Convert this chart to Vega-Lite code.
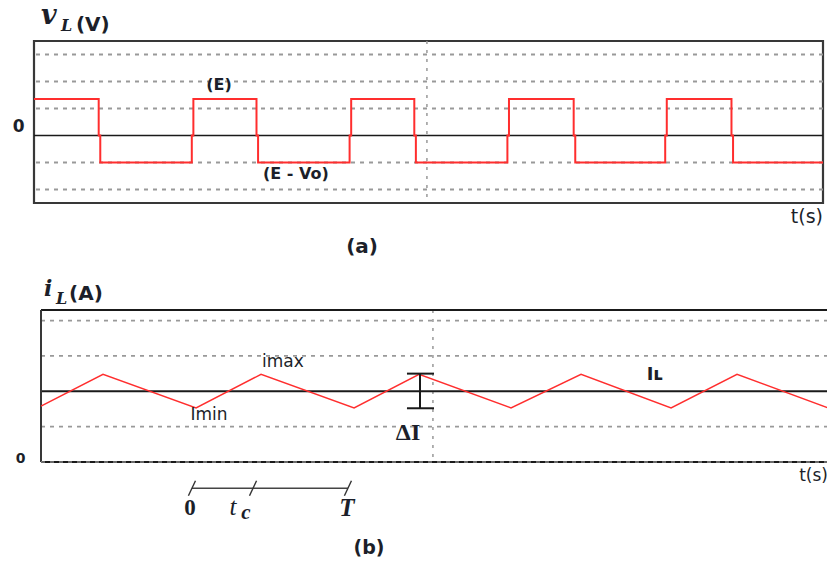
{
"$schema": "https://vega.github.io/schema/vega-lite/v6.json",
"background": "white",
"padding": {"left": 11, "top": 1, "right": 0, "bottom": 0},
"autosize": {"type": "pad"},
"bounds": "flush",
"spacing": 107,
"config": {"view": {"stroke": null}, "axis": {"domain": false, "ticks": false, "grid": false, "title": null}},
"vconcat": [
{
 "width": 789, "height": 162,
 "view": {"stroke": "#383838", "strokeWidth": 2.2},
 "layer": [
  {"data": {"values": [{"v": 3}, {"v": 2}, {"v": 1}, {"v": -1}, {"v": -2}]},
   "mark": {"type": "rule", "stroke": "#999999", "strokeWidth": 1.8, "strokeDash": [4, 5]},
   "encoding": {"y": {"field": "v", "type": "quantitative", "scale": {"domain": [-2.5, 3.5], "nice": false, "zero": false},
     "axis": {"values": [0], "labelFont": "DejaVu Sans", "labelFontSize": 17, "labelFontWeight": "bold", "labelColor": "#1c1f2a", "labelPadding": 10, "labelOffset": -9}}}},
  {"data": {"values": [{"t": 24.9}]},
   "mark": {"type": "rule", "stroke": "#999999", "strokeWidth": 1.5, "strokeDash": [3, 6]},
   "encoding": {"x": {"field": "t", "type": "quantitative", "scale": {"domain": [0, 50], "nice": false, "zero": false}, "axis": null}}},
  {"data": {"values": [{"v": 0}]},
   "mark": {"type": "rule", "stroke": "#1a1a1a", "strokeWidth": 1.6},
   "encoding": {"y": {"field": "v", "type": "quantitative", "scale": {"domain": [-2.5, 3.5], "nice": false, "zero": false}}}},
  {"data": {"values": [
     {"k": 1, "t": 0, "v": 1.35}, {"k": 2, "t": 4.1, "v": 1.35}, {"k": 3, "t": 4.1, "v": 0}, {"k": 4, "t": 4.2, "v": 0}, {"k": 5, "t": 4.2, "v": -1},
     {"k": 6, "t": 10, "v": -1}, {"k": 7, "t": 10, "v": 0}, {"k": 8, "t": 10.1, "v": 0}, {"k": 9, "t": 10.1, "v": 1.35},
     {"k": 10, "t": 14.1, "v": 1.35}, {"k": 11, "t": 14.1, "v": 0}, {"k": 12, "t": 14.2, "v": 0}, {"k": 13, "t": 14.2, "v": -1},
     {"k": 14, "t": 20, "v": -1}, {"k": 15, "t": 20, "v": 0}, {"k": 16, "t": 20.1, "v": 0}, {"k": 17, "t": 20.1, "v": 1.35},
     {"k": 18, "t": 24.1, "v": 1.35}, {"k": 19, "t": 24.1, "v": 0}, {"k": 20, "t": 24.2, "v": 0}, {"k": 21, "t": 24.2, "v": -1},
     {"k": 22, "t": 30, "v": -1}, {"k": 23, "t": 30, "v": 0}, {"k": 24, "t": 30.1, "v": 0}, {"k": 25, "t": 30.1, "v": 1.35},
     {"k": 26, "t": 34.2, "v": 1.35}, {"k": 27, "t": 34.2, "v": 0}, {"k": 28, "t": 34.3, "v": 0}, {"k": 29, "t": 34.3, "v": -1},
     {"k": 30, "t": 40, "v": -1}, {"k": 31, "t": 40, "v": 0}, {"k": 32, "t": 40.1, "v": 0}, {"k": 33, "t": 40.1, "v": 1.35},
     {"k": 34, "t": 44.2, "v": 1.35}, {"k": 35, "t": 44.2, "v": 0}, {"k": 36, "t": 44.3, "v": 0}, {"k": 37, "t": 44.3, "v": -1},
     {"k": 38, "t": 50, "v": -1}]},
   "mark": {"type": "line", "stroke": "#ff2e2e", "strokeWidth": 2},
   "encoding": {"x": {"field": "t", "type": "quantitative", "scale": {"domain": [0, 50], "nice": false, "zero": false}, "axis": null},
     "y": {"field": "v", "type": "quantitative", "scale": {"domain": [-2.5, 3.5], "nice": false, "zero": false}},
     "order": {"field": "k", "type": "quantitative"}}},
  {"data": {"values": [{"t": 11.72, "v": 1.88, "label": "(E)"}, {"t": 16.6, "v": -1.44, "label": "(E - Vo)"}]},
   "mark": {"type": "text", "font": "DejaVu Sans", "fontSize": 16, "fontWeight": "bold", "color": "#1c1f2a", "align": "center", "baseline": "middle"},
   "encoding": {"x": {"field": "t", "type": "quantitative", "scale": {"domain": [0, 50], "nice": false, "zero": false}, "axis": null},
     "y": {"field": "v", "type": "quantitative", "scale": {"domain": [-2.5, 3.5], "nice": false, "zero": false}},
     "text": {"field": "label"}}},
  {"data": {"values": [{"t": 50, "v": -3.02, "label": "t(s)"}]},
   "mark": {"type": "text", "font": "DejaVu Sans", "fontSize": 19, "color": "#1c1f2a", "align": "right", "baseline": "middle"},
   "encoding": {"x": {"field": "t", "type": "quantitative", "scale": {"domain": [0, 50], "nice": false, "zero": false}, "axis": null},
     "y": {"field": "v", "type": "quantitative", "scale": {"domain": [-2.5, 3.5], "nice": false, "zero": false}},
     "text": {"field": "label"}}},
  {"data": {"values": [{"t": 20.79, "v": -4.12, "label": "(a)"}]},
   "mark": {"type": "text", "font": "DejaVu Sans", "fontSize": 20, "fontWeight": "bold", "color": "#1c1f2a", "align": "center", "baseline": "middle"},
   "encoding": {"x": {"field": "t", "type": "quantitative", "scale": {"domain": [0, 50], "nice": false, "zero": false}, "axis": null},
     "y": {"field": "v", "type": "quantitative", "scale": {"domain": [-2.5, 3.5], "nice": false, "zero": false}},
     "text": {"field": "label"}}},
  {"data": {"values": [{"t": 0.44, "v": 4.12, "label": "v"}]},
   "mark": {"type": "text", "font": "DejaVu Serif", "fontSize": 27, "fontWeight": "bold", "fontStyle": "italic", "color": "#1c1f2a", "align": "left", "baseline": "alphabetic"},
   "encoding": {"x": {"field": "t", "type": "quantitative", "scale": {"domain": [0, 50], "nice": false, "zero": false}, "axis": null},
     "y": {"field": "v", "type": "quantitative", "scale": {"domain": [-2.5, 3.5], "nice": false, "zero": false}},
     "text": {"field": "label"}}},
  {"data": {"values": [{"t": 1.71, "v": 3.86, "label": "L"}]},
   "mark": {"type": "text", "font": "DejaVu Serif", "fontSize": 16, "fontWeight": "bold", "fontStyle": "italic", "color": "#1c1f2a", "align": "left", "baseline": "alphabetic"},
   "encoding": {"x": {"field": "t", "type": "quantitative", "scale": {"domain": [0, 50], "nice": false, "zero": false}, "axis": null},
     "y": {"field": "v", "type": "quantitative", "scale": {"domain": [-2.5, 3.5], "nice": false, "zero": false}},
     "text": {"field": "label"}}},
  {"data": {"values": [{"t": 2.66, "v": 3.86, "label": "(V)"}]},
   "mark": {"type": "text", "font": "DejaVu Sans", "fontSize": 20, "fontWeight": "bold", "color": "#1c1f2a", "align": "left", "baseline": "alphabetic"},
   "encoding": {"x": {"field": "t", "type": "quantitative", "scale": {"domain": [0, 50], "nice": false, "zero": false}, "axis": null},
     "y": {"field": "v", "type": "quantitative", "scale": {"domain": [-2.5, 3.5], "nice": false, "zero": false}},
     "text": {"field": "label"}}}
 ]
},
{
 "width": 794, "height": 152,
 "view": {"stroke": null},
 "layer": [
  {"data": {"values": [{"i": 4}, {"i": 3}, {"i": 1}]},
   "mark": {"type": "rule", "stroke": "#999999", "strokeWidth": 1.8, "strokeDash": [4, 5]},
   "encoding": {"y": {"field": "i", "type": "quantitative", "scale": {"domain": [0, 4.3], "nice": false, "zero": false},
     "axis": {"values": [0], "labelFont": "DejaVu Sans", "labelFontSize": 14, "labelFontWeight": "bold", "labelColor": "#1c1f2a", "labelPadding": 9, "labelOffset": -4}},
     "x": {"datum": 0, "type": "quantitative", "scale": {"domain": [-0.445, 50], "nice": false, "zero": false}, "axis": null},
     "x2": {"datum": 50}}},
  {"data": {"values": [{"t": 24.9}]},
   "mark": {"type": "rule", "stroke": "#999999", "strokeWidth": 1.5, "strokeDash": [3, 6]},
   "encoding": {"x": {"field": "t", "type": "quantitative", "scale": {"domain": [-0.445, 50], "nice": false, "zero": false}, "axis": null}}},
  {"data": {"values": [{"i": 2}, {"i": 4.3}, {"i": 0}]},
   "mark": {"type": "rule", "stroke": "#1a1a1a", "strokeWidth": 2},
   "encoding": {"y": {"field": "i", "type": "quantitative", "scale": {"domain": [0, 4.3], "nice": false, "zero": false}},
     "x": {"datum": 0, "type": "quantitative", "scale": {"domain": [-0.445, 50], "nice": false, "zero": false}, "axis": null},
     "x2": {"datum": 50}}},
  {"data": {"values": [{"t": 0}]},
   "mark": {"type": "rule", "stroke": "#383838", "strokeWidth": 2},
   "encoding": {"x": {"field": "t", "type": "quantitative", "scale": {"domain": [-0.445, 50], "nice": false, "zero": false}, "axis": null},
     "y": {"datum": 0, "type": "quantitative", "scale": {"domain": [0, 4.3], "nice": false, "zero": false}},
     "y2": {"datum": 4.3}}},
  {"data": {"values": [{"i": 0}]},
   "mark": {"type": "rule", "stroke": "#bdbdbd", "strokeWidth": 1, "strokeDash": [4, 5]},
   "encoding": {"y": {"field": "i", "type": "quantitative", "scale": {"domain": [0, 4.3], "nice": false, "zero": false}},
     "x": {"datum": 0, "type": "quantitative", "scale": {"domain": [-0.445, 50], "nice": false, "zero": false}, "axis": null},
     "x2": {"datum": 50}}},
  {"data": {"values": [
     {"k": 1, "t": 0, "i": 1.58}, {"k": 2, "t": 3.94, "i": 2.48}, {"k": 3, "t": 9.85, "i": 1.53}, {"k": 4, "t": 13.98, "i": 2.48},
     {"k": 5, "t": 19.89, "i": 1.53}, {"k": 6, "t": 24.02, "i": 2.48}, {"k": 7, "t": 29.86, "i": 1.53}, {"k": 8, "t": 34.31, "i": 2.48},
     {"k": 9, "t": 40.03, "i": 1.53}, {"k": 10, "t": 44.22, "i": 2.48}, {"k": 11, "t": 50, "i": 1.53}]},
   "mark": {"type": "line", "stroke": "#ff2e2e", "strokeWidth": 1.5},
   "encoding": {"x": {"field": "t", "type": "quantitative", "scale": {"domain": [-0.445, 50], "nice": false, "zero": false}, "axis": null},
     "y": {"field": "i", "type": "quantitative", "scale": {"domain": [0, 4.3], "nice": false, "zero": false}},
     "order": {"field": "k", "type": "quantitative"}}},
  {"data": {"values": [{"t": 24.08, "t2": 24.08, "i": 1.52, "i2": 2.5}, {"t": 23.25, "t2": 24.97, "i": 2.5, "i2": 2.5}, {"t": 23.25, "t2": 24.97, "i": 1.52, "i2": 1.52}]},
   "mark": {"type": "rule", "stroke": "#1a1a1a", "strokeWidth": 2},
   "encoding": {"x": {"field": "t", "type": "quantitative", "scale": {"domain": [-0.445, 50], "nice": false, "zero": false}, "axis": null},
     "x2": {"field": "t2"},
     "y": {"field": "i", "type": "quantitative", "scale": {"domain": [0, 4.3], "nice": false, "zero": false}},
     "y2": {"field": "i2"}}},
  {"data": {"values": [{"t": 15.37, "i": 2.82, "label": "imax"}, {"t": 10.67, "i": 1.34, "label": "Imin"}]},
   "mark": {"type": "text", "font": "DejaVu Sans", "fontSize": 17, "color": "#1c1f2a", "align": "center", "baseline": "middle"},
   "encoding": {"x": {"field": "t", "type": "quantitative", "scale": {"domain": [-0.445, 50], "nice": false, "zero": false}, "axis": null},
     "y": {"field": "i", "type": "quantitative", "scale": {"domain": [0, 4.3], "nice": false, "zero": false}},
     "text": {"field": "label"}}},
  {"data": {"values": [{"t": 39.0, "i": 2.45, "label": "Iʟ"}]},
   "mark": {"type": "text", "font": "DejaVu Sans", "fontSize": 18, "fontWeight": "bold", "color": "#1c1f2a", "align": "center", "baseline": "middle"},
   "encoding": {"x": {"field": "t", "type": "quantitative", "scale": {"domain": [-0.445, 50], "nice": false, "zero": false}, "axis": null},
     "y": {"field": "i", "type": "quantitative", "scale": {"domain": [0, 4.3], "nice": false, "zero": false}},
     "text": {"field": "label"}}},
  {"data": {"values": [{"t": 23.32, "i": 0.81, "label": "ΔI"}]},
   "mark": {"type": "text", "font": "Liberation Serif", "fontSize": 24, "fontWeight": "bold", "color": "#1c1f2a", "align": "center", "baseline": "middle"},
   "encoding": {"x": {"field": "t", "type": "quantitative", "scale": {"domain": [-0.445, 50], "nice": false, "zero": false}, "axis": null},
     "y": {"field": "i", "type": "quantitative", "scale": {"domain": [0, 4.3], "nice": false, "zero": false}},
     "text": {"field": "label"}}},
  {"data": {"values": [{"t": 50, "i": -0.4, "label": "t(s)"}]},
   "mark": {"type": "text", "font": "DejaVu Sans", "fontSize": 17, "color": "#1c1f2a", "align": "right", "baseline": "middle"},
   "encoding": {"x": {"field": "t", "type": "quantitative", "scale": {"domain": [-0.445, 50], "nice": false, "zero": false}, "axis": null},
     "y": {"field": "i", "type": "quantitative", "scale": {"domain": [0, 4.3], "nice": false, "zero": false}},
     "text": {"field": "label"}}},
  {"data": {"values": [{"t": 9.59, "t2": 19.5, "i": -0.744}]},
   "mark": {"type": "rule", "stroke": "#444444", "strokeWidth": 1.5},
   "encoding": {"x": {"field": "t", "type": "quantitative", "scale": {"domain": [-0.445, 50], "nice": false, "zero": false}, "axis": null},
     "x2": {"field": "t2"},
     "y": {"field": "i", "type": "quantitative", "scale": {"domain": [0, 4.3], "nice": false, "zero": false}}}},
  {"data": {"values": [{"t": 9.59, "i": -0.744}, {"t": 13.47, "i": -0.744}, {"t": 19.5, "i": -0.744}]},
   "mark": {"type": "point", "shape": "M -0.47 1 L 0.47 -1", "size": 225, "stroke": "#333333", "strokeWidth": 1.4, "filled": false, "opacity": 1},
   "encoding": {"x": {"field": "t", "type": "quantitative", "scale": {"domain": [-0.445, 50], "nice": false, "zero": false}, "axis": null},
     "y": {"field": "i", "type": "quantitative", "scale": {"domain": [0, 4.3], "nice": false, "zero": false}}}},
  {"data": {"values": [{"t": 9.47, "i": -1.31, "label": "0"}]},
   "mark": {"type": "text", "font": "Liberation Serif", "fontSize": 23, "fontWeight": "bold", "color": "#1c1f2a", "align": "center", "baseline": "middle"},
   "encoding": {"x": {"field": "t", "type": "quantitative", "scale": {"domain": [-0.445, 50], "nice": false, "zero": false}, "axis": null},
     "y": {"field": "i", "type": "quantitative", "scale": {"domain": [0, 4.3], "nice": false, "zero": false}},
     "text": {"field": "label"}}},
  {"data": {"values": [{"t": 19.44, "i": -1.31, "label": "T"}]},
   "mark": {"type": "text", "font": "Liberation Serif", "fontSize": 25, "fontWeight": "bold", "fontStyle": "italic", "color": "#1c1f2a", "align": "center", "baseline": "middle"},
   "encoding": {"x": {"field": "t", "type": "quantitative", "scale": {"domain": [-0.445, 50], "nice": false, "zero": false}, "axis": null},
     "y": {"field": "i", "type": "quantitative", "scale": {"domain": [0, 4.3], "nice": false, "zero": false}},
     "text": {"field": "label"}}},
  {"data": {"values": [{"t": 12.2, "i": -1.28, "label": "t"}]},
   "mark": {"type": "text", "font": "Liberation Serif", "fontSize": 25, "fontStyle": "italic", "color": "#1c1f2a", "align": "center", "baseline": "middle"},
   "encoding": {"x": {"field": "t", "type": "quantitative", "scale": {"domain": [-0.445, 50], "nice": false, "zero": false}, "axis": null},
     "y": {"field": "i", "type": "quantitative", "scale": {"domain": [0, 4.3], "nice": false, "zero": false}},
     "text": {"field": "label"}}},
  {"data": {"values": [{"t": 13.02, "i": -1.45, "label": "c"}]},
   "mark": {"type": "text", "font": "Liberation Serif", "fontSize": 21, "fontStyle": "italic", "fontWeight": "bold", "color": "#1c1f2a", "align": "center", "baseline": "middle"},
   "encoding": {"x": {"field": "t", "type": "quantitative", "scale": {"domain": [-0.445, 50], "nice": false, "zero": false}, "axis": null},
     "y": {"field": "i", "type": "quantitative", "scale": {"domain": [0, 4.3], "nice": false, "zero": false}},
     "text": {"field": "label"}}},
  {"data": {"values": [{"t": 20.84, "i": -2.44, "label": "(b)"}]},
   "mark": {"type": "text", "font": "DejaVu Sans", "fontSize": 19, "fontWeight": "bold", "color": "#1c1f2a", "align": "center", "baseline": "middle"},
   "encoding": {"x": {"field": "t", "type": "quantitative", "scale": {"domain": [-0.445, 50], "nice": false, "zero": false}, "axis": null},
     "y": {"field": "i", "type": "quantitative", "scale": {"domain": [0, 4.3], "nice": false, "zero": false}},
     "text": {"field": "label"}}},
  {"data": {"values": [{"t": 0.19, "i": 4.69, "label": "i"}]},
   "mark": {"type": "text", "font": "DejaVu Serif", "fontSize": 22, "fontWeight": "bold", "fontStyle": "italic", "color": "#1c1f2a", "align": "left", "baseline": "alphabetic"},
   "encoding": {"x": {"field": "t", "type": "quantitative", "scale": {"domain": [-0.445, 50], "nice": false, "zero": false}, "axis": null},
     "y": {"field": "i", "type": "quantitative", "scale": {"domain": [0, 4.3], "nice": false, "zero": false}},
     "text": {"field": "label"}}},
  {"data": {"values": [{"t": 0.95, "i": 4.46, "label": "L"}]},
   "mark": {"type": "text", "font": "DejaVu Serif", "fontSize": 16, "fontWeight": "bold", "fontStyle": "italic", "color": "#1c1f2a", "align": "left", "baseline": "alphabetic"},
   "encoding": {"x": {"field": "t", "type": "quantitative", "scale": {"domain": [-0.445, 50], "nice": false, "zero": false}, "axis": null},
     "y": {"field": "i", "type": "quantitative", "scale": {"domain": [0, 4.3], "nice": false, "zero": false}},
     "text": {"field": "label"}}},
  {"data": {"values": [{"t": 1.78, "i": 4.57, "label": "(A)"}]},
   "mark": {"type": "text", "font": "DejaVu Sans", "fontSize": 20, "fontWeight": "bold", "color": "#1c1f2a", "align": "left", "baseline": "alphabetic"},
   "encoding": {"x": {"field": "t", "type": "quantitative", "scale": {"domain": [-0.445, 50], "nice": false, "zero": false}, "axis": null},
     "y": {"field": "i", "type": "quantitative", "scale": {"domain": [0, 4.3], "nice": false, "zero": false}},
     "text": {"field": "label"}}}
 ]
}
]
}
